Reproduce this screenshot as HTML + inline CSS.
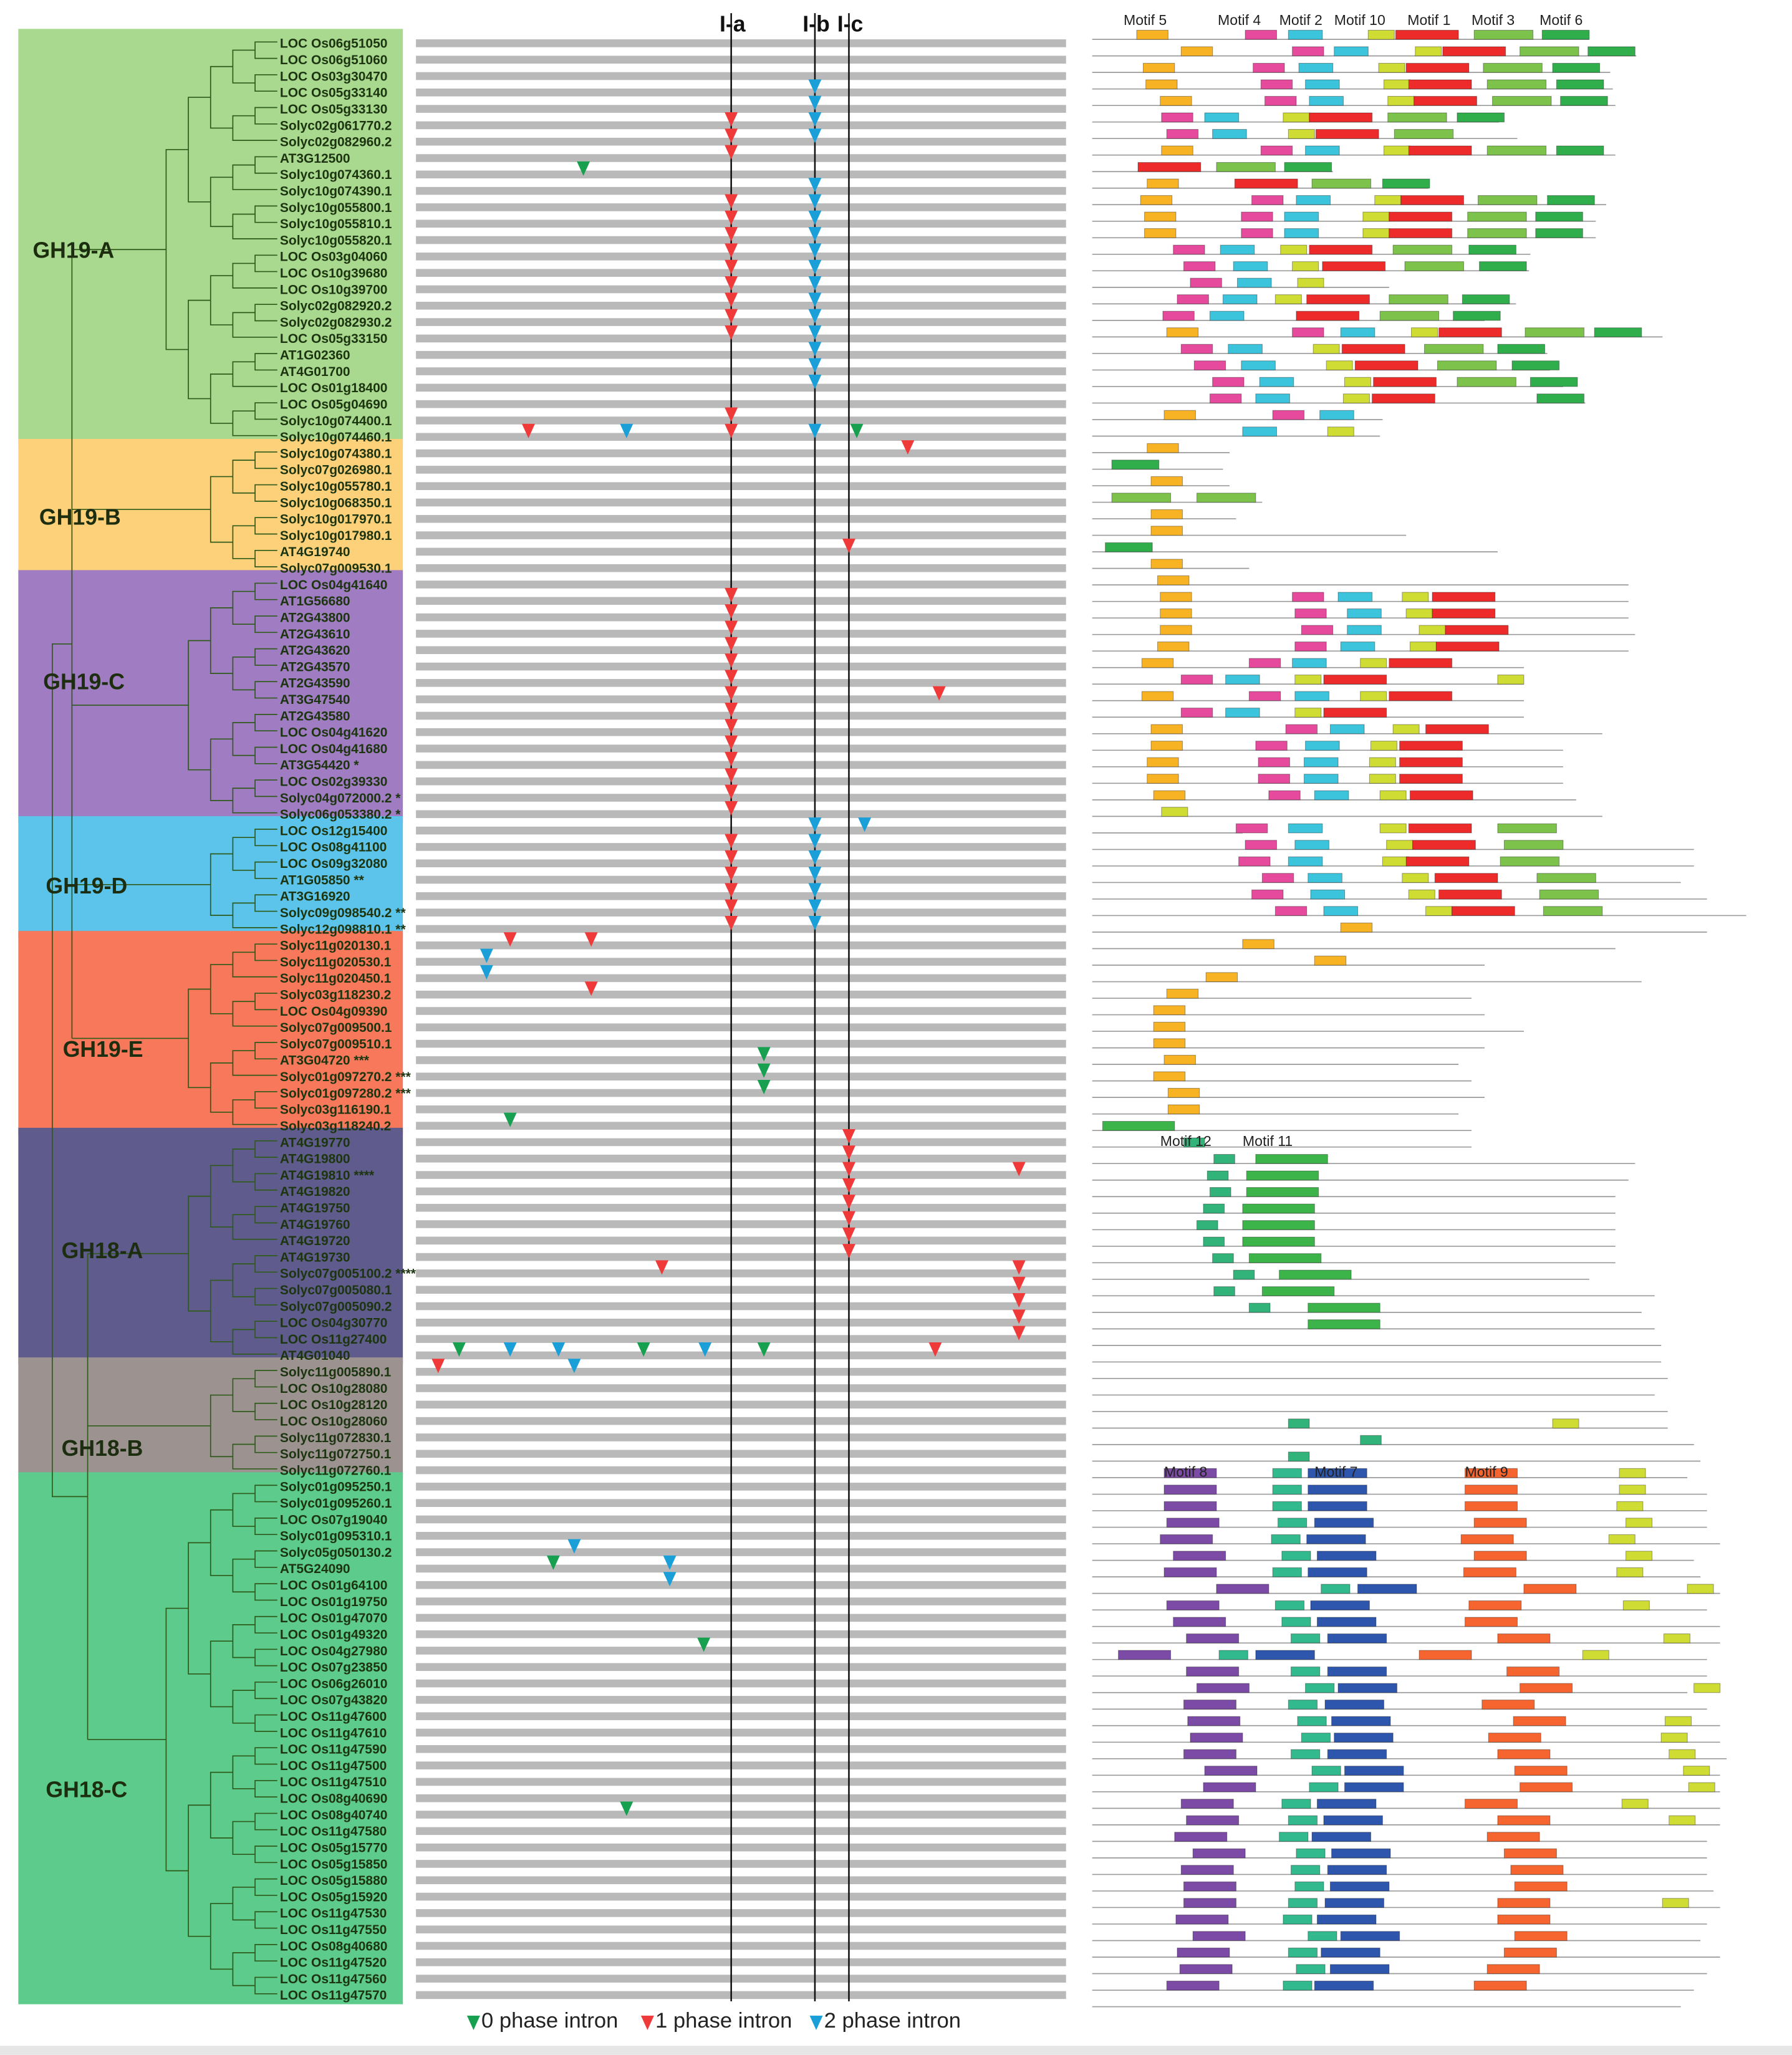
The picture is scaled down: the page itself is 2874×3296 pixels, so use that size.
<!DOCTYPE html>
<html><head><meta charset="utf-8">
<style>
html,body{margin:0;padding:0;background:#fff}
svg{display:block}
text{font-family:"Liberation Sans",sans-serif}
</style></head>
<body>
<svg id="fig" xmlns="http://www.w3.org/2000/svg" width="2874" height="3296" viewBox="0 0 1370 1571">
<rect x="0" y="0" width="1370" height="1571" fill="#fff"/>
<rect x="0" y="1564" width="1370" height="7" fill="#e6e6e6"/>
<g id="groups"></g><g id="tree"></g><g id="labels"></g><g id="bars"></g><g id="intronlines"></g><g id="introns"></g><g id="motifs"></g><g id="legend"></g>
</svg>
<script>
// ---- data ----
const geneNames = ["LOC Os06g51050","LOC Os06g51060","LOC Os03g30470","LOC Os05g33140","LOC Os05g33130","Solyc02g061770.2","Solyc02g082960.2","AT3G12500","Solyc10g074360.1","Solyc10g074390.1","Solyc10g055800.1","Solyc10g055810.1","Solyc10g055820.1","LOC Os03g04060","LOC Os10g39680","LOC Os10g39700","Solyc02g082920.2","Solyc02g082930.2","LOC Os05g33150","AT1G02360","AT4G01700","LOC Os01g18400","LOC Os05g04690","Solyc10g074400.1","Solyc10g074460.1",
"Solyc10g074380.1","Solyc07g026980.1","Solyc10g055780.1","Solyc10g068350.1","Solyc10g017970.1","Solyc10g017980.1","AT4G19740","Solyc07g009530.1",
"LOC Os04g41640","AT1G56680","AT2G43800","AT2G43610","AT2G43620","AT2G43570","AT2G43590","AT3G47540","AT2G43580","LOC Os04g41620","LOC Os04g41680","AT3G54420 *","LOC Os02g39330","Solyc04g072000.2 *","Solyc06g053380.2 *",
"LOC Os12g15400","LOC Os08g41100","LOC Os09g32080","AT1G05850 **","AT3G16920","Solyc09g098540.2 **","Solyc12g098810.1 **",
"Solyc11g020130.1","Solyc11g020530.1","Solyc11g020450.1","Solyc03g118230.2","LOC Os04g09390","Solyc07g009500.1","Solyc07g009510.1","AT3G04720 ***","Solyc01g097270.2 ***","Solyc01g097280.2 ***","Solyc03g116190.1","Solyc03g118240.2",
"AT4G19770","AT4G19800","AT4G19810 ****","AT4G19820","AT4G19750","AT4G19760","AT4G19720","AT4G19730","Solyc07g005100.2 ****","Solyc07g005080.1","Solyc07g005090.2","LOC Os04g30770","LOC Os11g27400","AT4G01040",
"Solyc11g005890.1","LOC Os10g28080","LOC Os10g28120","LOC Os10g28060","Solyc11g072830.1","Solyc11g072750.1","Solyc11g072760.1",
"Solyc01g095250.1","Solyc01g095260.1","LOC Os07g19040","Solyc01g095310.1","Solyc05g050130.2","AT5G24090","LOC Os01g64100","LOC Os01g19750","LOC Os01g47070","LOC Os01g49320","LOC Os04g27980","LOC Os07g23850","LOC Os06g26010","LOC Os07g43820","LOC Os11g47600","LOC Os11g47610","LOC Os11g47590","LOC Os11g47500","LOC Os11g47510","LOC Os08g40690","LOC Os08g40740","LOC Os11g47580","LOC Os05g15770","LOC Os05g15850","LOC Os05g15880","LOC Os05g15920","LOC Os11g47530","LOC Os11g47550","LOC Os08g40680","LOC Os11g47520","LOC Os11g47560","LOC Os11g47570"];
const groupNames = ["GH19-A","GH19-B","GH19-C","GH19-D","GH19-E","GH18-A","GH18-B","GH18-C"];
const groupStart = [0,25,33,48,55,67,81,88];
const groupEnd   = [24,32,47,54,66,80,87,119];
const groupColors = ["#a9d98f","#fdd17a","#a07cc2","#5cc4ea","#f7785a","#5f5b8c","#9c9391","#5ccb8b"];
// intron data: row index, position along alignment (0..500), phase
const intronRows  = [3,4,5,6, 5,6,7, 8, 10,11,12,13,14,15,16,17,18, 9,10,11,12,13,14,15,16,17,18,19,20,21, 23,24,24,24,24,24, 25, 31,
 34,35,36,37,38,39,40,41,42,43,44,45,46,47, 40, 48,48, 49,50,51,52,53,54, 49,50,51,52,53,54,
 55,55,56,57,58,62,63,64,66, 67,68,69,70,71,72,73,74, 69,75,75,76,77,78,79, 80,80,80,80,80,80,80, 81,81, 92,93,93,94,98,108];
const intronPos   = [305,305,305,305, 241,241,241, 128, 241,241,241,241,241,241,241,241,241, 305,305,305,305,305,305,305,305,305,305,305,305,305, 241,241,86,161,305,337, 376, 331,
 241,241,241,241,241,241,241,241,241,241,241,241,241,241, 400, 305,343, 241,241,241,241,241,241, 305,305,305,305,305,305,
 72,134,54,54,134,266,266,266,72, 331,331,331,331,331,331,331,331, 461,188,461,461,461,461,461, 33,72,109,174,221,266,397, 17,121, 121,105,194,194,220,161];
const intronPhase = [2,2,2,2, 1,1,1, 0, 1,1,1,1,1,1,1,1,1, 2,2,2,2,2,2,2,2,2,2,2,2,2, 1,1,1,2,2,0, 1, 1,
 1,1,1,1,1,1,1,1,1,1,1,1,1,1, 1, 2,2, 1,1,1,1,1,1, 2,2,2,2,2,2,
 1,1,2,2,1,0,0,0,0, 1,1,1,1,1,1,1,1, 1,1,1,1,1,1,1, 0,2,2,0,2,0,1, 1,2, 2,0,2,2,0,0];
const phaseLabels = ["0 phase intron","1 phase intron","2 phase intron"];
const geneLen = [380,416,396,398,400,311,325,400,184,257,393,385,385,335,334,227,324,300,436,348,350,360,377,222,220,
 105,100,105,130,110,240,310,120,
 410,410,410,415,410,330,330,330,330,390,360,360,360,370,390,
 115,460,460,450,470,500,470,
 400,300,420,290,300,330,300,280,290,300,280,290,
 290,415,410,400,400,400,400,400,380,430,420,430,435,435,
 440,430,440,440,460,465,455,
 470,470,470,480,460,465,480,470,480,480,470,470,455,470,480,480,485,480,480,480,480,470,470,470,475,480,470,465,480,470,460,450];
const motifRowData = [
"5@34 4@117 2@150 10@211 1@232 3@292 6@344","5@68 4@153 2@185 10@247 1@268 3@327 6@379","5@39 4@123 2@158 10@219 1@240 3@299 6@352","5@41 4@129 2@163 10@223 1@242 3@302 6@355","5@52 4@132 2@166 10@226 1@246 3@306 6@358",
"4@53 2@86 10@146 1@166 3@226 6@279","4@57 2@92 10@150 1@171 3@231","5@53 4@129 2@163 10@223 1@242 3@302 6@355","1@35 3@95 6@147","5@42 1@109 3@168 6@222",
"5@37 4@122 2@156 10@216 1@236 3@295 6@348","5@40 4@114 2@147 10@207 1@227 3@287 6@339","5@40 4@114 2@147 10@207 1@227 3@287 6@339","4@62 2@98 10@144 1@166 3@230 6@288","4@70 2@108 10@153 1@176 3@239 6@296",
"4@75 2@111 10@157","4@65 2@100 10@140 1@164 3@227 6@283","4@54 2@90 1@156 3@220 6@276","5@57 4@153 2@190 10@244 1@265 3@331 6@384","4@68 2@104 10@169 1@191 3@254 6@310",
"4@78 2@114 10@179 1@201 3@264 6@321","4@92 2@128 10@193 1@215 3@279 6@335","4@90 2@125 10@192 1@214 6@340","5@55 4@138 2@174","2@115 10@180",
"5@42","6@15","5@45","3@15 3@80","5@45","5@45","6@10","5@45",
"5@50","5@52 4@153 2@188 10@237 1@260","5@52 4@155 2@195 10@240 1@260","5@52 4@160 2@195 10@250 1@270","5@50 4@155 2@190 10@243 1@263","5@38 4@120 2@153 10@205 1@227",
"4@68 2@102 10@155 1@177 10@310","5@38 4@120 2@155 10@205 1@227","4@68 2@102 10@155 1@177","5@45 4@148 2@182 10@230 1@255","5@45 4@125 2@163 10@213 1@235",
"5@42 4@127 2@162 10@212 1@235","5@42 4@127 2@162 10@212 1@235","5@47 4@135 2@170 10@220 1@243",
"10@53","4@110 2@150 10@220 1@242 3@310","4@117 2@155 10@225 1@245 3@315","4@112 2@150 10@222 1@240 3@312","4@130 2@165 10@237 1@262 3@340","4@122 2@167 10@242 1@265 3@342","4@140 2@177 10@255 1@275 3@345",
"5@190","5@115","5@170","5@87","5@57","5@47","5@47","5@47","5@55","5@47","5@58","5@58",
"11@8","12@70","12@93 11@125","12@88 11@118","12@90 11@118","12@85 11@115","12@80 11@115","12@85 11@115","12@92 11@120","12@108 11@143","12@93 11@130","12@120 11@165","11@165","",
"","","","","12@150 10@352","12@205","12@150",
"8@55 13@138 7@165 9@285 10@403","8@55 13@138 7@165 9@285 10@403","8@55 13@138 7@165 9@285 10@401","8@57 13@142 7@170 9@292 10@408","8@52 13@137 7@164 9@282 10@395",
"8@62 13@145 7@172 9@292 10@408","8@55 13@138 7@165 9@284 10@401","8@95 13@175 7@203 9@330 10@455","8@57 13@140 7@167 9@288 10@406","8@62 13@145 7@172 9@285",
"8@72 13@152 7@180 9@310 10@437","8@20 13@97 7@125 9@250 10@375","8@72 13@152 7@180 9@317","8@80 13@163 7@188 9@327 10@460","8@70 13@150 7@178 9@298",
"8@73 13@157 7@183 9@322 10@438","8@75 13@160 7@185 9@303 10@435","8@70 13@152 7@180 9@310 10@441","8@86 13@168 7@193 9@323 10@452","8@85 13@166 7@193 9@327 10@456",
"8@68 13@145 7@172 9@285 10@405","8@72 13@150 7@177 9@310 10@441","8@63 13@143 7@168 9@302","8@77 13@156 7@183 9@315","8@68 13@152 7@180 9@320",
"8@70 13@155 7@182 9@323","8@70 13@150 7@178 9@310 10@436","8@64 13@146 7@172 9@310","8@77 13@165 7@190 9@323","8@65 13@150 7@175 9@315",
"8@67 13@156 7@182 9@302","8@57 13@146 7@170 9@292"];
const motifLen = {1:48,2:26,3:45,4:24,5:24,6:36,7:45,8:40,9:40,10:20,11:55,12:16,13:22};
const motifColor = {1:"#ee2b2b",2:"#3cc4dc",3:"#7cc24b",4:"#e64a9c",5:"#f8b324",6:"#31ae4c",7:"#2e56ad",8:"#7b4ba5",9:"#f6652f",10:"#cfdc33",11:"#3db44a",12:"#32b37a",13:"#33b98e"};

// ---- helpers / axes ----
const NS="http://www.w3.org/2000/svg";
const rowY = i => 33 + i*12.54;
const motifRowY = i => 27 + i*12.64;
const alignX = p => 318 + p;          // intron alignment axis
const motifX = p => 835 + p;          // motif axis
function mk(tag, attrs, parent){ const e=document.createElementNS(NS,tag); for(const k in attrs) e.setAttribute(k,attrs[k]); parent.appendChild(e); return e; }
const G = id => document.getElementById(id);

// groups
groupNames.forEach((n,gi)=>{
  const y0 = rowY(groupStart[gi]) - 11, y1 = rowY(groupEnd[gi]) + 7;
  const r = mk('rect',{x:14,y:y0,width:294,height:y1-y0,fill:groupColors[gi]},G('groups'));
  
  
});

// tree (approximate balanced clades per group)
const tcol = "#2e5a1a";
const roots = [];
function build(lo,hi){
  if(lo===hi) return {y:rowY(lo)-1, h:0};
  const mid = Math.floor((lo+hi)/2);
  const a = build(lo,mid), b = build(mid+1,hi);
  const h = Math.max(a.h,b.h)+1, x = 212 - h*17;
  const ax = a.h===0?212:212-a.h*17, bx = b.h===0?212:212-b.h*17;
  const l1 = mk('path',{d:`M${ax},${a.y}H${x}V${b.y}H${bx}`,fill:'none',stroke:tcol,'stroke-width':0.8},G('tree'));
  
  
  return {y:(a.y+b.y)/2, h};
}
groupNames.forEach((n,gi)=>{ const r = build(groupStart[gi],groupEnd[gi]); roots.push(r); });
roots.forEach((r,gi)=>{
  const rx = 212 - r.h*17;
  const l = mk('path',{d:`M${rx},${r.y}H${gi<5?55:67}`,fill:'none',stroke:tcol,'stroke-width':0.8},G('tree'));
  
  
});
[[0,4,55],[5,7,67]].forEach(([a,b,x])=>{
  const l = mk('path',{d:`M${x},${roots[a].y}V${roots[b].y}`,fill:'none',stroke:tcol,'stroke-width':0.8},G('tree'));
  
  
});
const sp = mk('path',{d:`M55,${(roots[0].y+roots[4].y)/2}H40V${(roots[5].y+roots[7].y)/2}H67`,fill:'none',stroke:tcol,'stroke-width':0.8},G('tree'));



// group labels
const glPos = [[25,197],[30,401],[33,527],[35,683],[48,808],[47,962],[47,1113],[35,1374]];
groupNames.forEach((n,gi)=>{
  const t = mk('text',{x:glPos[gi][0],y:glPos[gi][1],'font-size':17,'font-weight':'bold',fill:'#1c2d10'},G('labels'));
  t.textContent = n;
  
  
});
// gene labels
geneNames.forEach((n,i)=>{
  const t = mk('text',{x:214,y:rowY(i)+3.5,'font-size':10,'font-weight':'bold',fill:'#1c3510'},G('labels'));
  t.textContent = n;
  
  
});

// gray alignment bars
geneNames.forEach((n,i)=>{
  const r = mk('rect',{x:318,y:rowY(i)-3,width:497,height:6,fill:'#b9b9b9'},G('bars'));
  
  
});
// intron position lines
[["I-a",241],["I-b",305],["I-c",331]].forEach(([lab,p])=>{
  const l = mk('line',{x1:alignX(p),x2:alignX(p),y1:10,y2:1530,stroke:'#111','stroke-width':1.2},G('intronlines'));
  
  
  const t = mk('text',{x:alignX(p)+1,y:24,'font-size':17,'font-weight':'bold','text-anchor':'middle',fill:'#111'},G('intronlines'));
  t.textContent = lab;
  
  
});
const phaseColor = ["#17a050","#f03a3a","#1a9fd8"];
function tri(x,y,c,parent){ return mk('polygon',{points:`${x-5},${y-9} ${x+5},${y-9} ${x},${y+2}`,fill:c},parent); }
intronRows.forEach((r,k)=>{
  const p = tri(alignX(intronPos[k]), rowY(r)-1, phaseColor[intronPhase[k]], G('introns'));
  
  
});

// motifs
geneLen.forEach((len,i)=>{
  const y = motifRowY(i);
  const l = mk('line',{x1:motifX(0),x2:motifX(len),y1:y+3,y2:y+3,stroke:'#9a9a9a','stroke-width':0.8},G('motifs'));
  
  
  (motifRowData[i]||"").split(" ").filter(s=>s).forEach(s=>{
    const [m,p] = s.split("@").map(Number);
    const b = mk('rect',{x:motifX(p),y:y-4,width:motifLen[m],height:7,fill:motifColor[m],stroke:'rgba(0,0,0,0.35)','stroke-width':0.5},G('motifs'));
    
    
  });
});
const motifLabels = [["Motif 5",859,19],["Motif 4",931,19],["Motif 2",978,19],["Motif 10",1020,19],["Motif 1",1076,19],["Motif 3",1125,19],["Motif 6",1177,19],["Motif 12",887,876],["Motif 11",950,876],["Motif 8",890,1129],["Motif 7",1005,1129],["Motif 9",1120,1129]];
motifLabels.forEach(([t,x,y])=>{
  const e = mk('text',{x,y,'font-size':11,fill:'#222'},G('motifs'));
  e.textContent = t;
  
  
});

// legend
[[362,0],[495,1],[624,2]].forEach(([x,ph])=>{
  const p = tri(x,1550,phaseColor[ph],G('legend'));
  
  
  const t = mk('text',{x:x+6,y:1550,'font-size':16.5,fill:'#222'},G('legend'));
  t.textContent = phaseLabels[ph];
  
  
});
</script>
</body></html>
